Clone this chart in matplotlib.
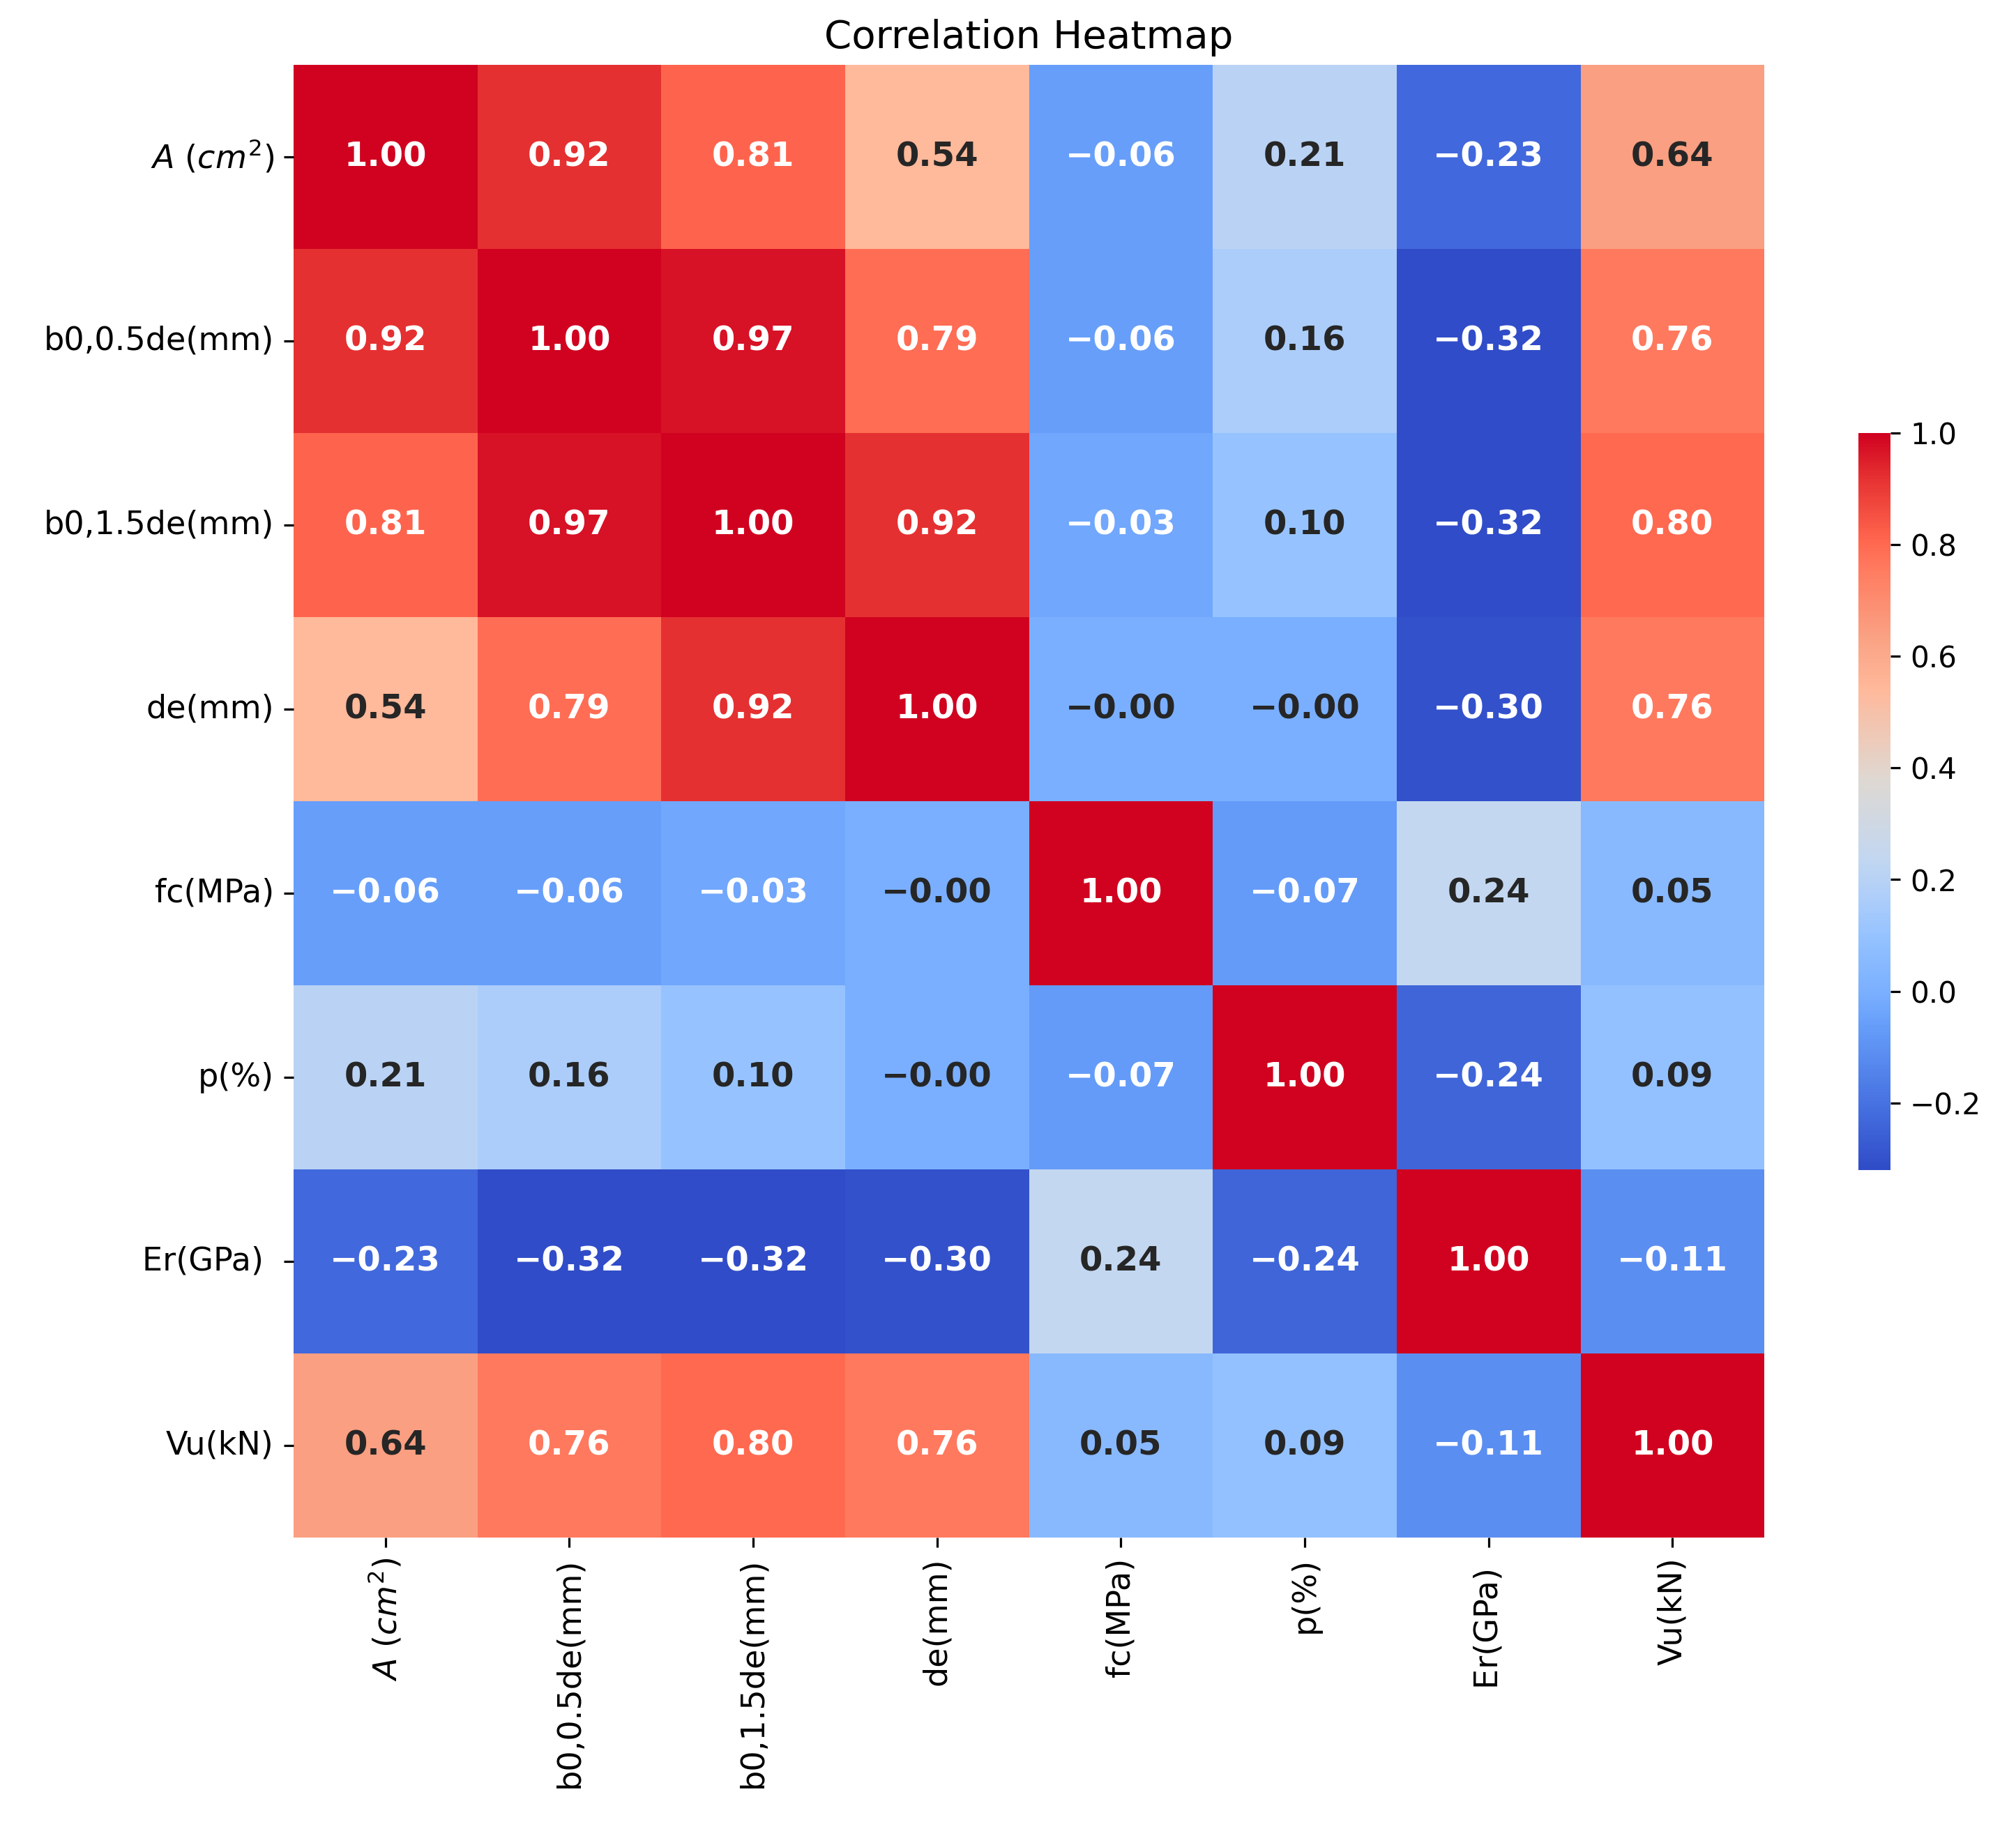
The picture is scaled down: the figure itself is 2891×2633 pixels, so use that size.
import numpy as np
import pandas as pd
import matplotlib
matplotlib.use("Agg")
import matplotlib.pyplot as plt
import matplotlib.colors as mcolors
import seaborn as sns

labels = ["$A\\ (cm^2)$", "b0,0.5de(mm)", "b0,1.5de(mm)", "de(mm)",
          "fc(MPa)", "p(%)", "Er(GPa) ", "Vu(kN)"]

# correlation values (-0.004 shows as -0.00)
row_A   = [1.00, 0.92, 0.81, 0.54, -0.06, 0.21, -0.23, 0.64]
row_b05 = [0.92, 1.00, 0.97, 0.79, -0.06, 0.16, -0.32, 0.76]
row_b15 = [0.81, 0.97, 1.00, 0.92, -0.03, 0.10, -0.32, 0.80]
row_de  = [0.54, 0.79, 0.92, 1.00, -0.004, -0.004, -0.30, 0.76]
row_fc  = [-0.06, -0.06, -0.03, -0.004, 1.00, -0.07, 0.24, 0.05]
row_p   = [0.21, 0.16, 0.10, -0.004, -0.07, 1.00, -0.24, 0.09]
row_Er  = [-0.23, -0.32, -0.32, -0.30, 0.24, -0.24, 1.00, -0.11]
row_Vu  = [0.64, 0.76, 0.80, 0.76, 0.05, 0.09, -0.11, 1.00]

corr = pd.DataFrame([row_A, row_b05, row_b15, row_de, row_fc, row_p, row_Er, row_Vu],
                    index=labels, columns=labels)

# annotation text with a real minus sign
annot = corr.map(lambda v: ("%.2f" % v).replace("-", "\u2212"))

# coolwarm-like map, more vivid like the reference picture
cw_stops = [
    (0.000, (48, 76, 200)),
    (0.068, (65, 105, 220)),
    (0.189, (100, 155, 248)),
    (0.239, (122, 175, 255)),
    (0.318, (150, 195, 255)),
    (0.364, (172, 205, 250)),
    (0.424, (195, 215, 240)),
    (0.530, (222, 216, 210)),
    (0.652, (255, 185, 155)),
    (0.727, (250, 160, 130)),
    (0.818, (255, 122, 95)),
    (0.856, (255, 102, 78)),
    (0.939, (230, 50, 50)),
    (1.000, (208, 2, 32)),
]
cmap = mcolors.LinearSegmentedColormap.from_list(
    "cw_vivid", [(p, tuple(c / 255 for c in rgb)) for p, rgb in cw_stops])
base = plt.get_cmap("coolwarm")

fig = plt.figure(figsize=(10, 9.108), dpi=289.1)
ax = fig.add_axes([0.1456, 0.1625, 0.7296, 0.8022])
cax = fig.add_axes([0.9218, 0.3627, 0.0159, 0.4015])

sns.heatmap(corr, annot=annot, fmt="", cmap=cmap, ax=ax, cbar_ax=cax,
            annot_kws={"weight": "bold", "size": 12})

# text colour picked from the plain coolwarm like seaborn does
vmin, vmax = corr.values.min(), corr.values.max()
for t, v in zip(ax.texts, corr.values.ravel()):
    lum = sns.utils.relative_luminance(base((v - vmin) / (vmax - vmin)))
    t.set_color(".15" if lum > .408 else "w")

ax.set_title("Correlation Heatmap", fontsize=14)
ax.tick_params(axis="y", rotation=0, labelsize=11.5)
ax.tick_params(axis="x", rotation=90, labelsize=11.5)
cax.tick_params(labelsize=10.5)

fig.savefig("out.png", dpi=289.1)
